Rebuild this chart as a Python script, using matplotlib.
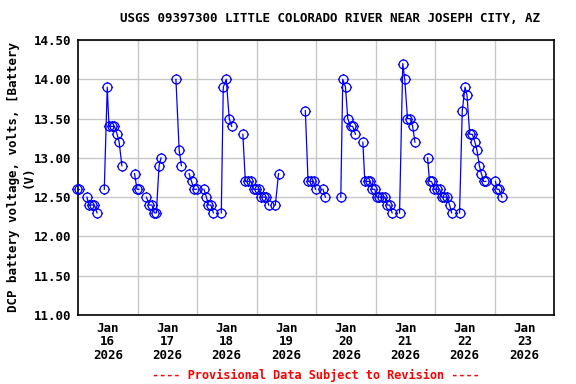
import numpy as np
import matplotlib
matplotlib.use("Agg")
import matplotlib.pyplot as plt
from matplotlib.path import Path

# Hours since Jan 16 2026 00:00 and DCP battery voltage readings
hours = [
    -0.4, 0.4, 3.6, 4.4, 5.5, 6.6, 7.7,
    10.6, 11.8, 12.5, 13.6, 14.7, 15.8, 16.6, 17.7,
    22.8, 23.8, 24.6,
    27.6, 28.7, 29.8, 30.8, 31.6, 32.7, 33.5,
    39.5, 40.8, 41.7,
    44.8, 45.8, 46.8, 47.8,
    50.8, 51.8, 52.6, 53.6, 54.6,
    57.8, 58.6, 59.8, 61.0, 62.0,
    66.5, 67.5, 68.6, 69.8, 70.8, 71.8, 72.9, 73.9, 75.0, 76.0, 76.9,
    79.6, 80.9,
    91.7, 92.8, 93.9, 95.0, 95.8,
    98.8, 99.8,
    106.0, 106.8, 107.9, 108.8, 110.0, 110.8, 111.9,
    114.9, 115.7, 116.8, 117.9, 118.7, 119.7, 120.5, 121.6, 122.7, 123.8, 124.8, 125.7, 126.7,
    129.7, 131.0, 131.8, 132.9, 134.0, 135.0, 135.9,
    141.0, 141.8, 142.6, 143.7, 144.8, 145.9, 146.7, 147.8, 148.8, 149.9, 150.7,
    153.9, 155.0, 156.1, 156.9, 158.0, 159.1, 160.1, 160.9, 161.9, 162.7, 163.6, 164.5,
    168.4, 169.0, 169.8, 171.0,
]
volts = [
    12.6, 12.6, 12.5, 12.4, 12.4, 12.4, 12.3,
    12.6, 13.9, 13.4, 13.4, 13.4, 13.3, 13.2, 12.9,
    12.8, 12.6, 12.6,
    12.5, 12.4, 12.4, 12.3, 12.3, 12.9, 13.0,
    14.0, 13.1, 12.9,
    12.8, 12.7, 12.6, 12.6,
    12.6, 12.5, 12.4, 12.4, 12.3,
    12.3, 13.9, 14.0, 13.5, 13.4,
    13.3, 12.7, 12.7, 12.7, 12.6, 12.6, 12.6, 12.5, 12.5, 12.5, 12.4,
    12.4, 12.8,
    13.6, 12.7, 12.7, 12.7, 12.6,
    12.6, 12.5,
    12.5, 14.0, 13.9, 13.5, 13.4, 13.4, 13.3,
    13.2, 12.7, 12.7, 12.7, 12.6, 12.6, 12.5, 12.5, 12.5, 12.5, 12.4, 12.4, 12.3,
    12.3, 14.2, 14.0, 13.5, 13.5, 13.4, 13.2,
    13.0, 12.7, 12.7, 12.6, 12.6, 12.6, 12.5, 12.5, 12.5, 12.4, 12.3,
    12.3, 13.6, 13.9, 13.8, 13.3, 13.3, 13.2, 13.1, 12.9, 12.8, 12.7, 12.7,
    12.7, 12.6, 12.6, 12.5,
]
days = [16, 17, 18, 19, 20, 21, 22, 23]
yticks = [11.0, 11.5, 12.0, 12.5, 13.0, 13.5, 14.0, 14.5]

BLUE = "#0000ff"
font = dict(family="DejaVu Sans Mono", weight="bold", size=9)

# circle with four small ticks, like the USGS plot symbol
circ = Path.unit_circle()
ticks = Path([(0, 1), (0, 1.25), (0, -1), (0, -1.25), (1, 0), (1.25, 0), (-1, 0), (-1.25, 0)],
             [Path.MOVETO, Path.LINETO] * 4)
symbol = Path.make_compound_path(circ, ticks)

fig = plt.figure(figsize=(5.76, 3.84), dpi=100)
ax = fig.add_axes([78 / 576, 69 / 384, 476 / 576, 275 / 384])

t = np.array(hours)
v = np.array(volts)
# break the line where readings are missing
breaks = np.where(np.diff(t) > 2.0)[0] + 1
for seg_t, seg_v in zip(np.split(t, breaks), np.split(v, breaks)):
    ax.plot(seg_t, seg_v, color=BLUE, lw=0.9, clip_on=False, zorder=3)
ax.plot(t, v, ls="none", marker=symbol, ms=8, mfc="none", mec=BLUE, mew=0.9,
        clip_on=False, zorder=4)

ax.set_xlim(0, 24 * len(days))
ax.set_ylim(11.0, 14.5)
ax.set_xticks([24 * i + 12 for i in range(len(days))])
ax.set_xticklabels([f"Jan\n{d}\n2026" for d in days], linespacing=1.05, **font)
ax.set_xticks([24 * i for i in range(1, len(days))], minor=True)
ax.set_yticks(yticks)
ax.set_yticklabels([f"{y:.2f}" for y in yticks], **font)
ax.tick_params(which="both", length=0)
ax.tick_params(axis="x", pad=5)
ax.tick_params(axis="y", pad=5)
ax.grid(True, which="minor", axis="x", color="#c8c8c8", lw=1)
ax.grid(True, which="major", axis="y", color="#c8c8c8", lw=1)
ax.set_axisbelow(True)
for s in ax.spines.values():
    s.set_linewidth(1.2)

fig.text(21 / 576, 1 - 177 / 384, "DCP battery voltage, volts, [Battery\n(V)",
         rotation=90, ha="center", va="center", multialignment="center", **font)
fig.text(330 / 576, 1 - 19 / 384, "USGS 09397300 LITTLE COLORADO RIVER NEAR JOSEPH CITY, AZ",
         ha="center", va="center", **font)
fig.text(316 / 576, 1 - 375 / 384, "---- Provisional Data Subject to Revision ----",
         ha="center", va="center", color="red", family="DejaVu Sans Mono",
         weight="bold", size=8.6)

fig.savefig("out.png", dpi=100)
